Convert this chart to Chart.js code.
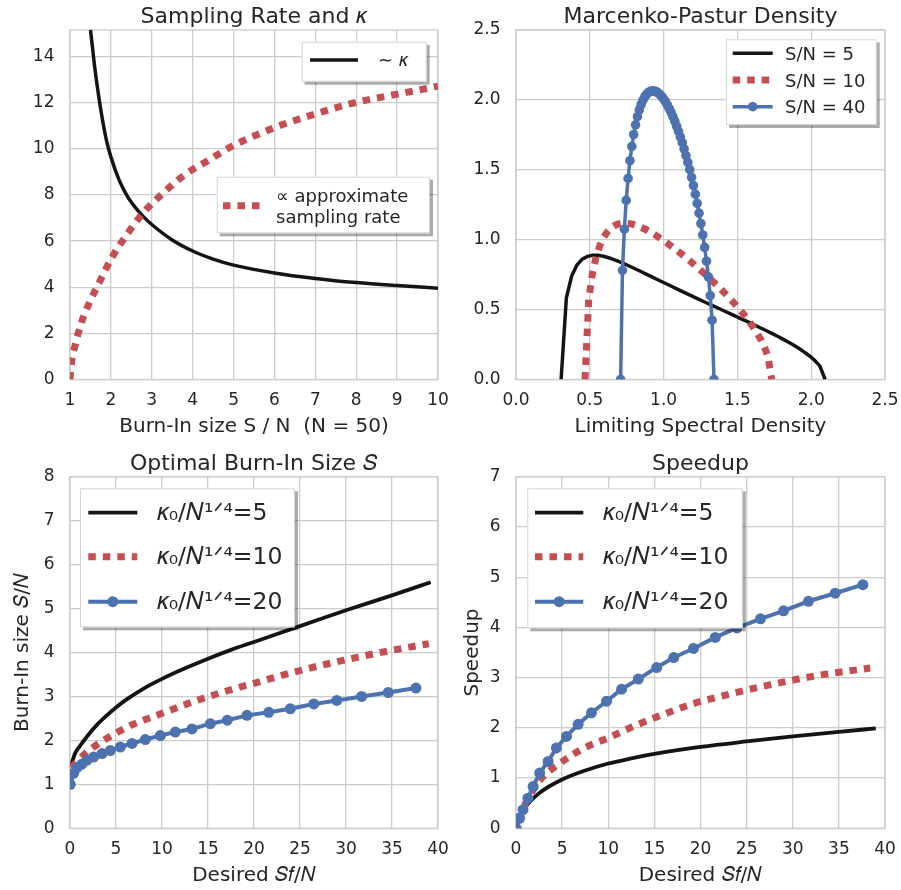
<!DOCTYPE html>
<html><head><meta charset="utf-8">
<script src="https://cdn.jsdelivr.net/npm/chart.js@4.4.1/dist/chart.umd.min.js"></script>
<style>
html,body{margin:0;padding:0;background:#fff;}
#wrap{position:relative;width:901px;height:890px;overflow:hidden;background:#fff;}
canvas{position:absolute;}
</style></head><body>
<div id="wrap">
<canvas id="c1" width="450" height="440" style="left:0;top:0"></canvas>
<canvas id="c2" width="451" height="440" style="left:450px;top:0"></canvas>
<canvas id="c3" width="450" height="450" style="left:0;top:440px"></canvas>
<canvas id="c4" width="451" height="450" style="left:450px;top:440px"></canvas>
</div>
<script>
// ---------------- Panel 1: Sampling Rate and kappa ----------------
const kappaX = [1.45, 1.5, 1.55, 1.6, 1.7, 1.8, 1.9, 2.0, 2.2, 2.4, 2.6, 2.8, 3.0, 3.5, 4.0, 4.5, 5.0, 6.0, 7.0, 8.0, 9.0, 10.0];
const kappaY = [16.4, 15.2, 14.4, 13.6, 12.3, 11.2, 10.3, 9.65, 8.65, 7.95, 7.45, 7.05, 6.72, 6.05, 5.57, 5.22, 4.96, 4.62, 4.38, 4.2, 4.07, 3.96];
const rateX = [1.0, 1.03, 1.12, 1.29, 1.49, 1.73, 2.02, 2.39, 2.79, 3.28, 3.81, 4.34, 4.95, 5.56, 6.2, 6.87, 7.85, 8.82, 9.8, 10.0];
const rateY = [0.0, 0.65, 1.44, 2.52, 3.39, 4.26, 5.27, 6.28, 7.22, 8.08, 8.88, 9.45, 10.1, 10.6, 11.05, 11.44, 11.95, 12.31, 12.64, 12.72];

// ---------------- Panel 2: Marcenko-Pastur density ----------------
const mpX5 = [0.3056,0.3413,0.3771,0.4129,0.4487,0.4844,0.5202,0.5560,0.5918,0.6275,0.6633,0.6991,0.7348,0.7706,0.8064,0.8422,0.8779,0.9137,0.9495,0.9853,1.0210,1.0568,1.0926,1.1283,1.1641,1.1999,1.2357,1.2714,1.3072,1.3430,1.3788,1.4145,1.4503,1.4861,1.5218,1.5576,1.5934,1.6292,1.6649,1.7007,1.7365,1.7723,1.8080,1.8438,1.8796,1.9153,1.9511,1.9869,2.0227,2.0584,2.0944];
const mpY5 = [0,0.584,0.740,0.819,0.861,0.881,0.889,0.888,0.882,0.871,0.858,0.843,0.827,0.810,0.792,0.774,0.756,0.738,0.719,0.701,0.683,0.665,0.647,0.629,0.611,0.593,0.575,0.558,0.540,0.523,0.506,0.488,0.471,0.454,0.436,0.419,0.401,0.383,0.365,0.347,0.328,0.309,0.289,0.268,0.246,0.223,0.198,0.170,0.138,0.097,0];
const mpX10 = [0.4675,0.4928,0.5181,0.5434,0.5687,0.5940,0.6193,0.6446,0.6699,0.6952,0.7205,0.7458,0.7711,0.7964,0.8217,0.8470,0.8723,0.8976,0.9229,0.9482,0.9735,0.9988,1.0241,1.0494,1.0747,1.1000,1.1253,1.1506,1.1759,1.2012,1.2265,1.2518,1.2771,1.3024,1.3277,1.3530,1.3783,1.4036,1.4289,1.4542,1.4795,1.5048,1.5301,1.5554,1.5807,1.6060,1.6313,1.6566,1.6819,1.7072,1.7325];
const mpY10 = [0,0.572,0.761,0.880,0.960,1.017,1.056,1.084,1.102,1.113,1.118,1.118,1.115,1.109,1.100,1.089,1.077,1.062,1.047,1.031,1.013,0.995,0.976,0.956,0.936,0.915,0.894,0.872,0.850,0.827,0.804,0.781,0.757,0.732,0.707,0.682,0.656,0.629,0.602,0.573,0.544,0.514,0.482,0.449,0.414,0.376,0.335,0.289,0.235,0.165,0];
const mpX40 = [0.7088,0.7214,0.7341,0.7467,0.7594,0.7720,0.7847,0.7973,0.8100,0.8226,0.8353,0.8479,0.8606,0.8732,0.8859,0.8985,0.9112,0.9238,0.9365,0.9491,0.9618,0.9744,0.9871,0.9997,1.0124,1.0250,1.0377,1.0503,1.0630,1.0756,1.0883,1.1009,1.1136,1.1262,1.1389,1.1515,1.1642,1.1768,1.1895,1.2021,1.2148,1.2274,1.2401,1.2527,1.2654,1.2780,1.2907,1.3033,1.3160,1.3286,1.3412];
const mpY40 = [0,0.781,1.075,1.281,1.438,1.565,1.667,1.752,1.822,1.880,1.928,1.967,1.998,2.023,2.041,2.054,2.061,2.065,2.064,2.059,2.051,2.039,2.025,2.007,1.987,1.964,1.938,1.911,1.880,1.848,1.812,1.775,1.735,1.694,1.649,1.602,1.553,1.501,1.446,1.387,1.326,1.260,1.190,1.115,1.034,0.945,0.846,0.734,0.600,0.424,0];

// ---------------- Panel 3: Optimal burn-in size ----------------
const burnX5 = [0.1, 0.5, 1.0, 2.0, 3.0, 4.0, 5.0, 6.0, 8.0, 10.0, 12.5, 15.0, 17.5, 20.0, 25.0, 30.0, 35.0, 39.2];
const burnY5 = [1.40, 1.68, 1.85, 2.13, 2.37, 2.57, 2.75, 2.91, 3.18, 3.40, 3.64, 3.86, 4.06, 4.24, 4.6, 4.96, 5.3, 5.6];
const burnX10 = [0.1, 1.66, 3.65, 6.6, 9.8, 13.4, 17.1, 20, 25, 31.2, 35, 39];
const burnY10 = [1.38, 1.70, 2.0, 2.34, 2.6, 2.88, 3.13, 3.3, 3.59, 3.89, 4.05, 4.2];
const sfX20 = [0.03, 0.39, 0.76, 1.3, 1.85, 2.57, 3.48, 4.38, 5.47, 6.74, 8.18, 9.82, 11.45, 13.26, 15.25, 17.1, 19.24, 21.6, 23.95, 26.5, 29.0, 31.7, 34.6, 37.6];
const burnY20 = [1.0, 1.25, 1.38, 1.46, 1.55, 1.62, 1.70, 1.77, 1.85, 1.93, 2.02, 2.11, 2.19, 2.26, 2.38, 2.46, 2.57, 2.64, 2.72, 2.83, 2.91, 3.0, 3.09, 3.19];

// ---------------- Panel 4: Speedup ----------------
const spX5 = [0.9, 1.5, 2.5, 5, 7.5, 10, 12.5, 15, 20, 25, 30, 35, 39];
const spY5 = [0.4, 0.53, 0.7, 0.97, 1.15, 1.29, 1.39, 1.48, 1.62, 1.73, 1.83, 1.92, 1.99];
const spX10 = [0.9, 1.33, 2.78, 4.58, 7.1, 10, 13.25, 16.9, 19, 22.5, 26.1, 30, 33.3, 38.4];
const spY10 = [0.45, 0.6, 1.0, 1.27, 1.57, 1.8, 2.07, 2.33, 2.47, 2.64, 2.8, 2.95, 3.06, 3.19];
const spY20 = [0.0, 0.2, 0.37, 0.6, 0.83, 1.1, 1.33, 1.6, 1.83, 2.07, 2.3, 2.53, 2.77, 2.97, 3.2, 3.4, 3.58, 3.8, 3.99, 4.17, 4.33, 4.52, 4.68, 4.85];

// ---------------- labels ----------------
const titles = ['Sampling Rate and 𝜅', 'Marcenko-Pastur Density', 'Optimal Burn-In Size 𝑆', 'Speedup'];
const xTitles = ['Burn-In size S / N  (N = 50)', 'Limiting Spectral Density', 'Desired 𝑆𝑓/𝑁', 'Desired 𝑆𝑓/𝑁'];
const yTitles = ['', '', 'Burn-In size 𝑆/𝑁', 'Speedup'];
const mpLabels = ['S/N = 5', 'S/N = 10', 'S/N = 40'];
const kLabels = ['𝜅₀/𝑁¹ᐟ⁴=5', '𝜅₀/𝑁¹ᐟ⁴=10', '𝜅₀/𝑁¹ᐟ⁴=20'];
const p1Labels = ['∼ 𝜅', '∝ approximate\nsampling rate'];

// ---------------- styling ----------------
const FONT = '"DejaVu Sans", "Liberation Sans", sans-serif';
const TXT = '#262626', GRID = '#cccccc';
const BLACK = '#141414', RED = '#c44e52', BLUE = '#4c72b0';
const DOT = [7.5, 7];

function pts(xs, ys) { return xs.map((x, i) => ({ x: x, y: ys[i] })); }

const framePlugin = {
  id: 'frame',
  beforeDatasetsDraw(chart) {
    const { ctx, chartArea: a } = chart;
    ctx.save();
    ctx.strokeStyle = GRID; ctx.lineWidth = 1.3;
    ctx.strokeRect(a.left, a.top, a.right - a.left, a.bottom - a.top);
    ctx.restore();
  }
};

const boxLegend = {
  id: 'boxLegend',
  afterDatasetsDraw(chart, args, opts) {
    const ctx = chart.ctx;
    (opts.boxes || []).forEach(b => {
      ctx.save();
      ctx.fillStyle = 'rgba(0,0,0,0.33)';
      ctx.fillRect(b.x + 3, b.y + 3, b.w, b.h);
      ctx.fillStyle = '#ffffff';
      ctx.fillRect(b.x, b.y, b.w, b.h);
      ctx.strokeStyle = '#d5d5d5'; ctx.lineWidth = 1;
      ctx.strokeRect(b.x + 0.5, b.y + 0.5, b.w - 1, b.h - 1);
      b.items.forEach(it => {
        const ds = chart.data.datasets[it.ds];
        ctx.save();
        ctx.strokeStyle = ds.borderColor; ctx.lineWidth = ds.borderWidth;
        ctx.setLineDash(ds.borderDash || []); ctx.lineCap = 'butt';
        ctx.beginPath(); ctx.moveTo(it.x0, it.y); ctx.lineTo(it.x1, it.y); ctx.stroke();
        ctx.setLineDash([]);
        if (ds.pointRadius > 0) {
          ctx.fillStyle = ds.pointBackgroundColor;
          ctx.beginPath(); ctx.arc((it.x0 + it.x1) / 2, it.y, ds.pointRadius, 0, Math.PI * 2); ctx.fill();
        }
        ctx.fillStyle = TXT;
        ctx.font = opts.fontSize + 'px ' + FONT;
        ctx.textBaseline = 'middle'; ctx.textAlign = 'left';
        const lines = String(ds.label).split('\n');
        lines.forEach((ln, i) => ctx.fillText(ln, it.tx, it.ty + i * (it.lh || 0)));
        ctx.restore();
      });
      ctx.restore();
    });
  }
};

function makeChart(id, cfg) {
  const c = document.getElementById(id);
  const W = c.width, H = c.height;
  const xFmt = cfg.xDec ? (v => Number(v).toFixed(cfg.xDec)) : (v => String(v));
  const yFmt = cfg.yDec ? (v => Number(v).toFixed(cfg.yDec)) : (v => String(v));
  return new Chart(c, {
    type: 'line',
    data: { datasets: cfg.datasets },
    plugins: [framePlugin, boxLegend],
    options: {
      responsive: false, animation: false, events: [],
      layout: { padding: { left: 0, top: 0, bottom: 0, right: W - cfg.area.right } },
      plugins: {
        legend: { display: false }, tooltip: { enabled: false },
        title: { display: true, fullSize: false, text: cfg.title, color: TXT,
          font: { family: FONT, size: 22, weight: 'normal', lineHeight: 1.1 },
          padding: { top: cfg.titlePad[0], bottom: cfg.titlePad[1] } },
        boxLegend: { boxes: cfg.legend, fontSize: cfg.legendFont }
      },
      scales: {
        x: {
          type: 'linear', min: cfg.x[0], max: cfg.x[1],
          grid: { color: GRID, lineWidth: 1.3, drawTicks: false },
          border: { display: false },
          ticks: { stepSize: cfg.x[2], includeBounds: false, autoSkip: false, maxRotation: 0,
            padding: 11, color: TXT, font: { family: FONT, size: 17 }, callback: xFmt },
          title: { display: true, text: cfg.xTitle, color: TXT, font: { family: FONT, size: 20 },
            padding: { top: 0, bottom: cfg.xTitlePad } },
          afterFit(s) { s.height = H - cfg.area.bottom; s.paddingLeft = 0; s.paddingRight = 0; }
        },
        y: {
          type: 'linear', min: cfg.y[0], max: cfg.y[1],
          grid: { color: GRID, lineWidth: 1.3, drawTicks: false },
          border: { display: false },
          ticks: { stepSize: cfg.y[2], includeBounds: false, autoSkip: false,
            padding: 15.5, color: TXT, font: { family: FONT, size: 17 }, callback: yFmt },
          title: { display: !!cfg.yTitle, text: cfg.yTitle, color: TXT, font: { family: FONT, size: 20 },
            padding: { top: 10.5, bottom: 0 } },
          afterFit(s) { s.width = cfg.area.left; s.paddingTop = 0; s.paddingBottom = 0; }
        }
      }
    }
  });
}

// Panel 1
makeChart('c1', {
  title: titles[0], xTitle: xTitles[0], yTitle: yTitles[0],
  area: { left: 70, right: 438, bottom: 379.5 }, titlePad: [5.4, 0.4], xTitlePad: 1.6,
  x: [1, 10, 1], y: [0, 15.15, 2], legendFont: 18,
  datasets: [
    { label: p1Labels[0], data: pts(kappaX, kappaY), borderColor: BLACK, borderWidth: 3.5,
      pointRadius: 0, cubicInterpolationMode: 'monotone', order: 1 },
    { label: p1Labels[1], data: pts(rateX, rateY), borderColor: RED, borderWidth: 7, borderDash: DOT,
      pointRadius: 0, cubicInterpolationMode: 'monotone', order: 0 }
  ],
  legend: [
    { x: 301.7, y: 41.7, w: 125, h: 40, items: [{ ds: 0, y: 60, x0: 310, x1: 358, tx: 378, ty: 61 }] },
    { x: 216.7, y: 176.7, w: 213.3, h: 56.6, items: [{ ds: 1, y: 205.7, x0: 223, x1: 265, tx: 276, ty: 197.3, lh: 21.4 }] }
  ]
});

// Panel 2
makeChart('c2', {
  title: titles[1], xTitle: xTitles[1], yTitle: yTitles[1],
  area: { left: 66, right: 435, bottom: 379.5 }, titlePad: [5.4, 0.4], xTitlePad: 1.6,
  x: [0, 2.5, 0.5], y: [0, 2.5, 0.5], xDec: 1, yDec: 1, legendFont: 18,
  datasets: [
    { label: mpLabels[0], data: pts(mpX5, mpY5), borderColor: BLACK, borderWidth: 3.5, pointRadius: 0, tension: 0, order: 2 },
    { label: mpLabels[1], data: pts(mpX10, mpY10), borderColor: RED, borderWidth: 7, borderDash: DOT, pointRadius: 0, tension: 0, order: 1 },
    { label: mpLabels[2], data: pts(mpX40, mpY40), borderColor: BLUE, borderWidth: 3.5, pointRadius: 4.8,
      pointBackgroundColor: BLUE, pointBorderWidth: 0, tension: 0, order: 0 }
  ],
  legend: [
    { x: 276, y: 39.3, w: 150.7, h: 85.7, items: [
      { ds: 0, y: 53.3, x0: 282.7, x1: 322.7, tx: 335, ty: 55.3 },
      { ds: 1, y: 80, x0: 282.7, x1: 322.7, tx: 335, ty: 82 },
      { ds: 2, y: 106.7, x0: 282.7, x1: 322.7, tx: 335, ty: 108.7 } ] }
  ]
});

// Panel 3
makeChart('c3', {
  title: titles[2], xTitle: xTitles[2], yTitle: yTitles[2],
  area: { left: 70, right: 438, bottom: 388.3 }, titlePad: [12.4, 0.1], xTitlePad: 2.2,
  x: [0, 40, 5], y: [0, 8, 1], legendFont: 23.5,
  datasets: [
    { label: kLabels[0], data: pts(burnX5, burnY5), borderColor: BLACK, borderWidth: 3.8, pointRadius: 0, cubicInterpolationMode: 'monotone', order: 2 },
    { label: kLabels[1], data: pts(burnX10, burnY10), borderColor: RED, borderWidth: 7, borderDash: DOT, pointRadius: 0, cubicInterpolationMode: 'monotone', order: 1 },
    { label: kLabels[2], data: pts(sfX20, burnY20), borderColor: BLUE, borderWidth: 4, pointRadius: 5.5,
      pointBackgroundColor: BLUE, pointBorderWidth: 0, tension: 0, order: 0 }
  ],
  legend: [
    { x: 80, y: 48.3, w: 215, h: 139, items: [
      { ds: 0, y: 72.7, x0: 88.3, x1: 137.3, tx: 156.7, ty: 73.7 },
      { ds: 1, y: 116.7, x0: 88.3, x1: 137.3, tx: 156.7, ty: 117.7 },
      { ds: 2, y: 161.7, x0: 88.3, x1: 137.3, tx: 156.7, ty: 162.7 } ] }
  ]
});

// Panel 4
makeChart('c4', {
  title: titles[3], xTitle: xTitles[3], yTitle: yTitles[3],
  area: { left: 66, right: 435, bottom: 388.3 }, titlePad: [12.4, 0.1], xTitlePad: 2.2,
  x: [0, 40, 5], y: [0, 7, 1], legendFont: 23.5,
  datasets: [
    { label: kLabels[0], data: pts(spX5, spY5), borderColor: BLACK, borderWidth: 3.8, pointRadius: 0, cubicInterpolationMode: 'monotone', order: 2 },
    { label: kLabels[1], data: pts(spX10, spY10), borderColor: RED, borderWidth: 7, borderDash: DOT, pointRadius: 0, cubicInterpolationMode: 'monotone', order: 1 },
    { label: kLabels[2], data: pts(sfX20, spY20), borderColor: BLUE, borderWidth: 4, pointRadius: 5.5,
      pointBackgroundColor: BLUE, pointBorderWidth: 0, tension: 0, order: 0 }
  ],
  legend: [
    { x: 77.3, y: 48.3, w: 215.4, h: 140, items: [
      { ds: 0, y: 72.7, x0: 85, x1: 133.3, tx: 152.7, ty: 73.7 },
      { ds: 1, y: 116.7, x0: 85, x1: 133.3, tx: 152.7, ty: 117.7 },
      { ds: 2, y: 161.7, x0: 85, x1: 133.3, tx: 152.7, ty: 162.7 } ] }
  ]
});
</script>
</body></html>
